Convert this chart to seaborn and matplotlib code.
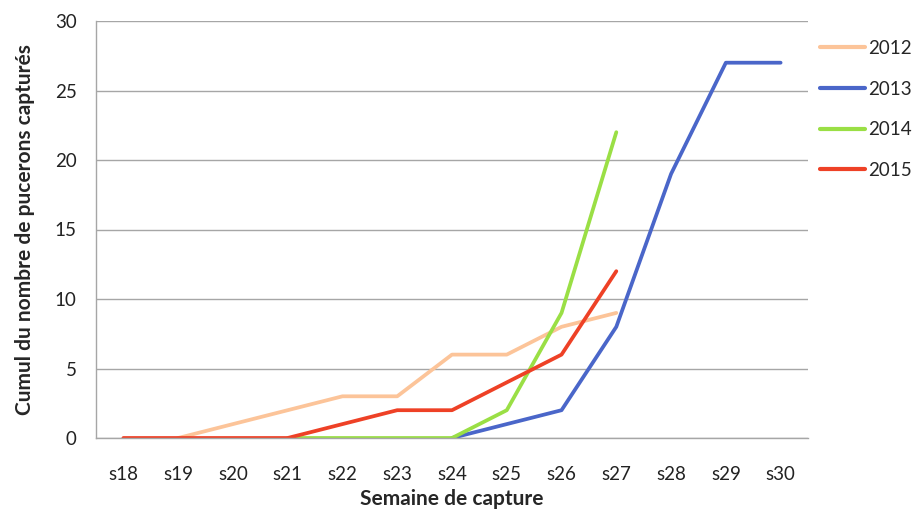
import matplotlib
matplotlib.use("Agg")
import matplotlib.pyplot as plt
import seaborn as sns
import pandas as pd
import numpy as np

weeks = ["s18", "s19", "s20", "s21", "s22", "s23", "s24", "s25", "s26", "s27", "s28", "s29", "s30"]
years = ["2012", "2013", "2014", "2015"]
v2012 = [None, 0, 1, 2, 3, 3, 6, 6, 8, 9, None, None, None]
v2013 = [None, None, None, None, None, None, 0, 1, 2, 8, 19, 27, 27]
v2014 = [None, None, None, 0, 0, 0, 0, 2, 9, 22, None, None, None]
v2015 = [0, 0, 0, 0, 1, 2, 2, 4, 6, 12, None, None, None]
colors = ["#FCC499", "#4A66C9", "#9ADF45", "#EE4126"]

rows = []
for y, vals in zip(years, [v2012, v2013, v2014, v2015]):
    for i, v in enumerate(vals):
        if v is not None:
            rows.append({"idx": i, "week": weeks[i], "year": y, "val": v})
df = pd.DataFrame(rows)

sns.set_style("white")
plt.rcParams["font.family"] = ["Lato", "DejaVu Sans"]

fig = plt.figure(figsize=(9.14, 5.09), dpi=100)
ax = fig.add_axes([96/914, 71/509, 712/914, 417/509])

sns.lineplot(data=df, x="idx", y="val", hue="year", hue_order=years,
             palette=dict(zip(years, colors)), linewidth=2.7, ax=ax,
             sort=True, estimator=None)

ax.set_xlim(-0.5, len(weeks) - 0.5)
ax.set_ylim(0, 30)
ax.set_yticks(range(0, 31, 5))
ax.set_xticks(range(len(weeks)))
ax.set_xticklabels(weeks)
ax.set_xticks(np.arange(-0.5, len(weeks), 1.0), minor=True)
ax.tick_params(axis="x", which="major", length=0, pad=20, labelsize=13.5, colors="#222222")
ax.tick_params(axis="x", which="minor", length=7, color="#999999", width=1)
ax.tick_params(axis="y", which="major", length=7, color="#999999", width=1, pad=7, labelsize=13.5, labelcolor="#222222")
ax.grid(axis="y", color="#A6A6A6", linewidth=1)
ax.set_axisbelow(True)
for s in ["top", "right"]:
    ax.spines[s].set_visible(False)
for s in ["left", "bottom"]:
    ax.spines[s].set_color("#A6A6A6")
    ax.spines[s].set_linewidth(1)

ax.set_xlabel("Semaine de capture", fontsize=15, fontweight="bold", labelpad=4.5)
ax.set_ylabel("Cumul du nombre de pucerons capturés", fontsize=15, fontweight="bold", labelpad=14)

leg = ax.legend(loc="upper left", bbox_to_anchor=(820/914, (509-40)/509),
                bbox_transform=fig.transFigure, frameon=False, borderpad=0, borderaxespad=0,
                fontsize=13.5, handlelength=2.4, handletextpad=0.15, labelspacing=1.26)
for line in leg.get_lines():
    line.set_linewidth(3)

fig.savefig("out.png", dpi=100)
